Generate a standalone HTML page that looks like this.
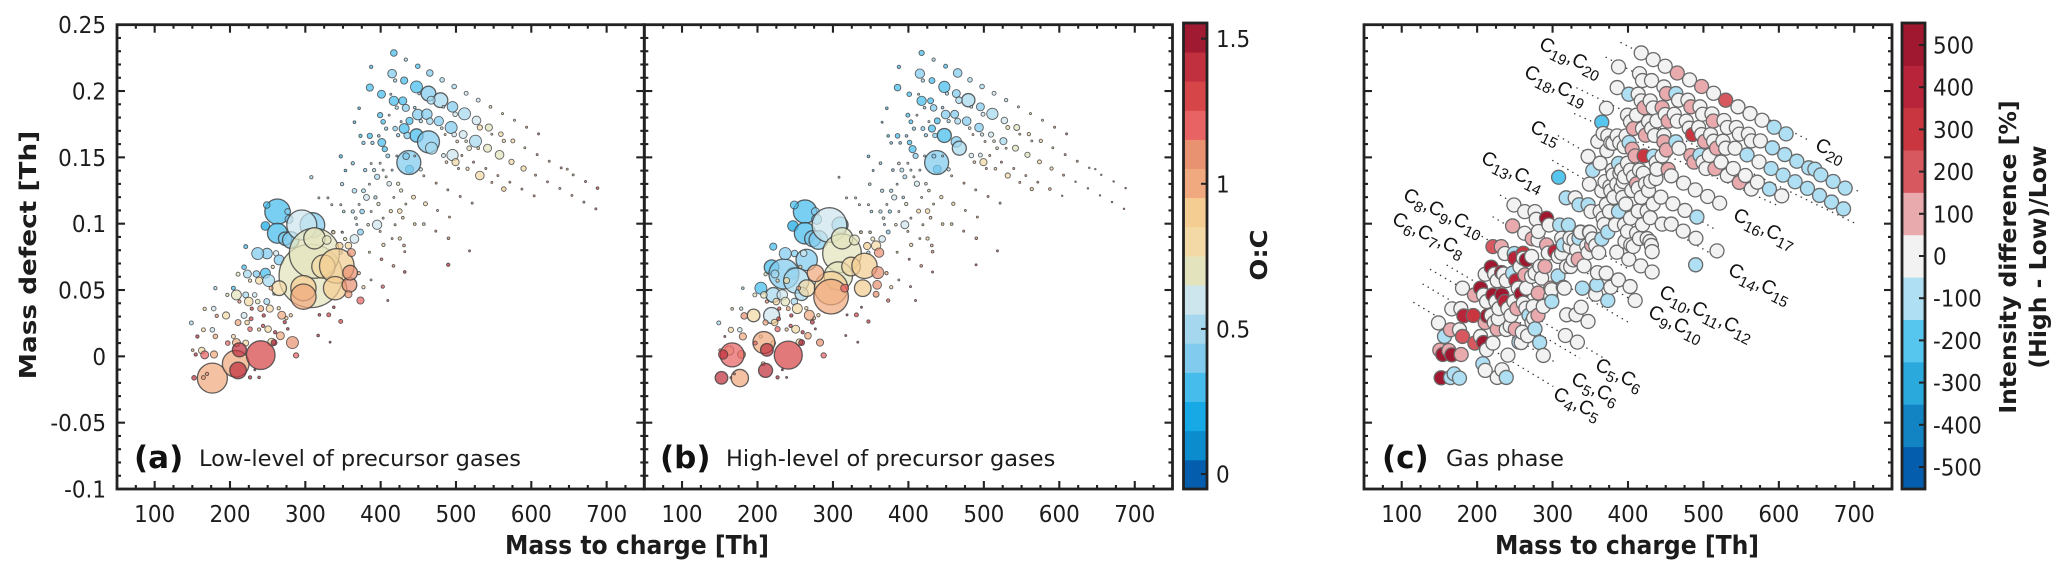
<!DOCTYPE html>
<html lang="en">
<head>
<meta charset="utf-8">
<title>Mass defect plots</title>
<style>
html,body{margin:0;padding:0;background:#fff;width:2067px;height:577px;overflow:hidden}
svg{display:block}
text{font-family:"DejaVu Sans","Liberation Sans",sans-serif;fill:#1c1c1c}
.tl{font-size:21.5px}
.ax{font-size:23.5px;font-weight:bold}
.pl{font-size:31px;font-weight:bold;fill:#111}
.pt{font-size:22.5px}
.fl{font-family:"Liberation Sans",sans-serif;font-size:19.5px;fill:#111}
.fl tspan.s{font-size:15px}
</style>
</head>
<body>
<svg id="fig" xmlns="http://www.w3.org/2000/svg" width="2067" height="577" viewBox="0 0 2067 577">
  <g id="layer-lines"></g>
  <g id="layer-marks"></g>
  <g id="layer-frames"></g>

  <text class="ax" text-anchor="middle" transform="translate(637 554) scale(1 1.1)">Mass to charge [Th]</text>
  <text class="ax" text-anchor="middle" transform="translate(1627 554) scale(1 1.1)">Mass to charge [Th]</text>
  <text class="ax" text-anchor="middle" transform="translate(36 255) rotate(-90) scale(1.12 1)">Mass defect [Th]</text>
  <text class="ax" text-anchor="middle" transform="translate(1267 255) rotate(-90) scale(1.1 1)">O:C</text>
  <text class="ax" text-anchor="middle" transform="translate(2016 257) rotate(-90)">Intensity difference [%]</text>
  <text class="ax" text-anchor="middle" transform="translate(2046 257) rotate(-90)">(High - Low)/Low</text>

  <text class="pl" x="134" y="468">(a)</text>
  <text class="pt" x="199" y="466">Low-level of precursor gases</text>
  <text class="pl" x="660" y="468">(b)</text>
  <text class="pt" x="726" y="466">High-level of precursor gases</text>
  <text class="pl" x="1382" y="468">(c)</text>
  <text class="pt" x="1446" y="466">Gas phase</text>

  <g>
    <text class="fl" transform="translate(1538 48) rotate(26)">C<tspan class="s" dy="5">19</tspan><tspan dy="-5">,C</tspan><tspan class="s" dy="5">20</tspan></text>
    <text class="fl" transform="translate(1523 76) rotate(26)">C<tspan class="s" dy="5">18</tspan><tspan dy="-5">,C</tspan><tspan class="s" dy="5">19</tspan></text>
    <text class="fl" transform="translate(1529 131) rotate(26)">C<tspan class="s" dy="5">15</tspan></text>
    <text class="fl" transform="translate(1480 162) rotate(26)">C<tspan class="s" dy="5">13</tspan><tspan dy="-5">,C</tspan><tspan class="s" dy="5">14</tspan></text>
    <text class="fl" transform="translate(1402 199) rotate(26)">C<tspan class="s" dy="5">8</tspan><tspan dy="-5">,C</tspan><tspan class="s" dy="5">9</tspan><tspan dy="-5">,C</tspan><tspan class="s" dy="5">10</tspan></text>
    <text class="fl" transform="translate(1391 223) rotate(26)">C<tspan class="s" dy="5">6</tspan><tspan dy="-5">,C</tspan><tspan class="s" dy="5">7</tspan><tspan dy="-5">,C</tspan><tspan class="s" dy="5">8</tspan></text>
    <text class="fl" transform="translate(1814 149) rotate(26)">C<tspan class="s" dy="5">20</tspan></text>
    <text class="fl" transform="translate(1732 219) rotate(26)">C<tspan class="s" dy="5">16</tspan><tspan dy="-5">,C</tspan><tspan class="s" dy="5">17</tspan></text>
    <text class="fl" transform="translate(1727 274) rotate(26)">C<tspan class="s" dy="5">14</tspan><tspan dy="-5">,C</tspan><tspan class="s" dy="5">15</tspan></text>
    <text class="fl" transform="translate(1658 296) rotate(26)">C<tspan class="s" dy="5">10</tspan><tspan dy="-5">,C</tspan><tspan class="s" dy="5">11</tspan><tspan dy="-5">,C</tspan><tspan class="s" dy="5">12</tspan></text>
    <text class="fl" transform="translate(1647 316) rotate(26)">C<tspan class="s" dy="5">9</tspan><tspan dy="-5">,C</tspan><tspan class="s" dy="5">10</tspan></text>
    <text class="fl" transform="translate(1594 369) rotate(26)">C<tspan class="s" dy="5">5</tspan><tspan dy="-5">,C</tspan><tspan class="s" dy="5">6</tspan></text>
    <text class="fl" transform="translate(1570 383) rotate(26)">C<tspan class="s" dy="5">5</tspan><tspan dy="-5">,C</tspan><tspan class="s" dy="5">6</tspan></text>
    <text class="fl" transform="translate(1552 398) rotate(26)">C<tspan class="s" dy="5">4</tspan><tspan dy="-5">,C</tspan><tspan class="s" dy="5">5</tspan></text>
  </g>
</svg>
<script>
const mz=[
417.5,433.4,449.3,465.3,481.6,497.6,513.5,529.5,545.8,561.8,
577.7,593.7,609.6,387.4,415.2,419.2,431.2,447.6,463.5,479.4,
495.4,511.3,527.2,543.6,559.6,575.5,385.6,401.1,413.5,417.5,
429.4,433.4,421.4,445.3,467,451.1,483.4,498.9,531.7,371.4,
365.2,399.3,411.3,403.3,407.3,427.2,438.3,449.3,461.3,465.3,
453.3,477.2,493.6,481.2,509.5,497.6,485.6,525.9,513.5,501.6,
547.6,563.5,541.9,557.8,573.7,589.7,591.4,607.8,623.8,639.7,
647.7,655.6,672,687.9,605.6,621.5,637.9,653.9,669.8,685.7,
555.6,571.5,587.5,603.8,531.7,547.6,563.5,539.6,523.3,515.3,
503.3,507.8,495.4,499.4,487.4,483.4,517.5,529.5,463.5,467.5,
447.6,435.2,423.2,431.2,419.2,373.2,385.6,397.5,377.2,389.1,
401.5,405.5,409.5,437.4,438.3,433.8,421.4,445.3,453.3,457.3,
347.1,363,353.3,387.4,399.3,379.4,391.3,403.3,415.2,395.3,
407.3,348.8,385.1,411.3,423.2,473.7,365.2,377.2,427.2,489.2,
381.2,393.1,417.5,443.6,505.6,335.1,347.1,371.4,397.1,433.4,
459.5,521.5,351,363,375.4,387.4,413.5,425.4,475.5,367,
403.3,429.4,491.4,368.3,383.4,395.3,419.2,445.3,457.3,336.9,
348.8,373.2,399.3,473.2,403.7,385.1,401.1,417,387.3,402.8,
409.5,415.2,425.4,365.2,352.8,345.3,357.2,361.2,347,371,
359.5,358.6,357.2,377.2,373.2,337.3,349.3,341.8,339.5,324,
312,307.2,297.5,297.5,295.3,309.4,312.1,263,248.8,276.7,
278.4,247,263,273.1,280.7,265.2,328.5,236.8,249.2,220.9,
218.7,223.1,210.7,235,247,251.4,238.6,226.6,256.8,261.2,
265.2,254.5,258.5,204.5,180.6,196.5,208.5,220.9,232.8,248.8,
212.5,224.9,236.8,166.4,178.4,228.9,240.8,252.8,264.7,182.4,
194.8,218.7,244.8,268.7,280.7,274.9,148.7,210.7,222.7,228,
272.7,318.7,331.1,337.8,347,164.7,176.6,226.6,238.6,250.6,
243.9,276.7,259.9,266.9,156.7,180.6,204.5,317,332.9,282.9,
197,208.5,220.9,255.4,258.5,150.5,162.5,212.5,154.5,166.4,
178.8,287.7,240.8,207.6,210.7,176.6,169.5,164.7,152.3,226.6,
238.6,233,308,318,330,513,447.6,451,292,232,
250,320.9,314.2,335,292.1,303.2,334,289.9,232.5,263.4,
299,314.2,213.5,276.9,315.6,432,490,489.7,518,431,
432
];
const defect=[
.2287,.2237,.2187,.2136,.2084,.2034,.1983,.1931,.1881,.1830,
.1780,.1727,.1677,.2182,.2131,.2079,.2079,.2031,.1981,.1931,
.1881,.1828,.1778,.1725,.1675,.1624,.2026,.1976,.1976,.1926,
.1926,.1873,.1875,.1875,.1931,.1981,.1881,.1825,.1725,.1870,
.1765,.1818,.1818,.1768,.1717,.1770,.1775,.1823,.1825,.1773,
.1773,.1773,.1725,.1720,.1672,.1672,.1672,.1622,.1622,.1620,
.1675,.1624,.1569,.1519,.1466,.1416,.1572,.1521,.1471,.1421,
.1411,.1368,.1318,.1268,.1366,.1316,.1266,.1213,.1163,.1112,
.1363,.1313,.1261,.1210,.1363,.1311,.1261,.1416,.1464,.1414,
.1416,.1514,.1517,.1464,.1464,.1514,.1569,.1569,.1617,.1569,
.1665,.1665,.1667,.1717,.1717,.1662,.1662,.1662,.1609,.1609,
.1612,.1562,.1511,.1461,.1411,.1509,.1511,.1511,.1409,.1361,
.1507,.1456,.1401,.1454,.1456,.1404,.1404,.1404,.1404,.1353,
.1353,.1298,.1298,.1301,.1301,.1306,.1248,.1248,.1250,.1255,
.1198,.1198,.1198,.1200,.1205,.1143,.1143,.1145,.1148,.1148,
.1150,.1155,.1092,.1092,.1092,.1092,.1095,.1095,.1100,.1042,
.1042,.1045,.1050,.0994,.0992,.0992,.0992,.0997,.0997,.0937,
.0937,.0937,.0942,.0944,.0840,.0785,.0732,.0682,.0576,.0526,
.0421,.0888,.0888,.0885,.0885,.0832,.0835,.0782,.0782,.0627,
.0631,.0539,.0468,.0521,.0421,.0935,.0935,.0682,.0514,.0677,
.0777,.0606,.0514,.0450,.0990,.0990,.0890,.1091,.1141,.1091,
.1033,.0983,.0928,.0887,.0877,.0727,.0877,.0775,.0775,.0827,
.0672,.0621,.0619,.0621,.0627,.0571,.0571,.0571,.0674,.0777,
.0514,.0514,.0471,.0514,.0514,.0463,.0463,.0463,.0463,.0413,
.0413,.0413,.0413,.0358,.0360,.0360,.0360,.0360,.0363,.0305,
.0308,.0308,.0308,.0310,.0310,.0288,.0252,.0255,.0255,.0283,
.0258,.0313,.0313,.0370,.0263,.0200,.0200,.0205,.0202,.0205,
.0230,.0207,.0182,.0155,.0150,.0150,.0150,.0157,.0107,.0104,
.0100,.0104,.0100,.0107,.0104,.0047,.0044,.0049,.0014,.0011,
.0014,.0007,.0009,-.0056,-.0106,-.0164,-.0132,-.0160,-.0162,-.0159,
-.0159,-.0101,.1350,.1195,.1195,.1774,.1617,.1556,.1041,.0827,
.0739,.0990,.0840,.0890,.0840,.0790,.0732,.0677,.0632,.0614,
.0413,.0521,.0305,.0626,.0514,.0636,.0890,.0690,.0795,.0836,
.0789
];
const intensityLow=[
11,2.8,5.4,11,5.4,5.4,4,4,1.8,1,
1,1,1,2.8,19,2.8,13,36,54,54,
28,36,19,13,5.4,4,13,16,1,22,
16,13,2.8,1.8,16,1.8,1.8,5.4,7.1,1.8,
1.8,7.1,1,5.4,2.8,1,13,28,28,11,
2.8,22,36,1.8,16,5.4,1,36,1.8,1.8,
1,2.8,16,19,7.1,7.1,1,1,1,1,
1,1,1,1.8,1,1,1,1,1,1,
1,1,1,1,19,1,5.4,1,1,2.8,
1,1,32,13,1.8,4,5.4,1.8,121,36,
44,11,2.8,25,5.4,2.8,7.1,1.8,2.8,2.8,
16,7.1,4,144,16,11,1,1,2.8,1,
2.8,2.8,1.8,1,1,2.8,2.8,1,1,7.1,
1,2.8,1,5.4,2.8,1,5.4,4,2.8,1,
9,2.8,1,4,1,1,1,1,2.8,1,
4,1,1.8,2.8,5.4,1,2.8,5.4,1,1.8,
1,1.8,1,1,1.8,22,1,1.8,1.8,2.8,
1,9,1,1,2.8,1,1.8,1.8,1,2.8,
1,1,2.8,19,2.8,13,11,16,2.8,2.8,
54,54,13,2.8,13,2.8,1,300,136,136,
625,1003,160,160,225,152,114,160,11,9,
16,19,100,44,69,25,19,36,28,4,
5.4,16,4,11,25,36,13,2.8,2.8,7.1,
54,4,1.8,4,2.8,2.8,25,9,5.4,9,
2.8,19,5.4,2.8,5.4,2.8,9,13,2.8,2.8,
13,9,2.8,16,2.8,2.8,4,9,5.4,4,
2.8,1.8,4,1.8,4,4,5.4,5.4,2.8,11,
2.8,1.8,2.8,16,2.8,5.4,4,1.8,1,36,
5.4,16,9,16,9,1.8,11,49,2.8,16,
13,7.1,205,178,69,225,2.8,4,5.4,2.8,
1.8,1,2.8,1,1,0,0,0,0,0,
0,0,0,0,0,0,0,0,0,0,
0,0,0,0,0,1.8,1.8,2.8,1,1.8,
1
];
const intensityHigh=[
7,2.8,4,19,5.4,5.4,4,2.8,1,1,
1,1,1,2.8,22,2.8,9,32,16,44,
16,32,11,9,2.8,2.8,11,5.4,1,22,
9,11,1.8,1.8,11,2.8,1.8,4,4,1.8,
1,4,1,4,2.8,1,9,19,16,9,
2.8,19,19,1.8,7,2.8,1,13,1.8,1,
1,1,9,7,4,2.8,1,1,1,.6,
.6,.6,.6,.6,1,.6,.6,.6,.6,.6,
1,1,1.8,.6,7,1,2.8,1,1,1.8,
1,1,4,13,1.8,5.4,1.8,1,28,49,
49,5.4,2.8,13,4,1.8,5.4,1.8,1.8,1.8,
5.4,13,7,144,16,4,1,1,2.8,1,
1.8,1.8,1,1.8,1,1.8,4,1,1,4,
1,1.8,1,7,1.8,1,2.8,2.8,1.8,1,
7,1.8,1,2.8,1,1,1,1,2.8,1,
2.8,1,1.8,2.8,2.8,1,4,5.4,1,1.8,
1,1.8,1,1,1.8,16,1,1.8,1.8,1.8,
1,4,1,1,2.8,1,1,1.8,1,1,
1,1,2.8,11,4,13,22,22,2.8,2.8,
36,19,9,2.8,2.8,1.8,1.8,160,69,87,
374,200,278,300,300,64,114,136,16,16,
25,28,114,64,87,114,25,36,11,13,
54,16,2.8,225,36,160,9,2.8,2.8,11,
69,4,44,36,1.8,4,11,54,28,11,
2.8,11,19,1.8,2.8,2.8,4,25,2.8,11,
40,64,2.8,25,2.8,2.8,4,7.1,11,4,
4,1,4,1,2.8,7.1,5.4,7.1,2.8,16,
2.8,1,2.8,11,1,13,2.8,1,1,13,
4,121,5.4,11,9,1.8,22,40,22,144,
16,7.1,196,4,49,75,1,1,40,2.8,
1,1,1,1,1,0,0,0,0,0,
0,0,0,0,0,0,0,0,0,0,
0,0,0,69,16,1,1.8,1,1,1.8,
1.8
];
const ocRatio=[
.3,.5,.35,.45,.55,.55,.6,.65,.8,.9,
.9,1,1.2,.35,.4,.5,.35,.25,.4,.5,
.45,.55,.6,.75,.8,.8,.3,.35,.5,.3,
.3,.4,.5,.4,.5,.5,.6,.6,.8,.35,
.35,.3,.6,.3,.45,.5,.3,.4,.4,.5,
.5,.45,.45,.6,.65,.6,.9,.55,.7,.8,
.9,.85,.75,.75,.8,.85,.95,1.1,1,1.1,
.9,.9,1.2,1.3,1,1,1,1,1.1,1.2,
1,1,1,1,.8,1,.95,1,1.1,.85,
1,1,.6,.8,.9,.6,.7,.8,.45,.55,
.35,.4,.45,.35,.4,.35,.3,.4,.4,.4,
.25,.35,.45,.45,.3,.45,.5,.6,.6,.9,
.35,.45,.3,.6,.7,.45,.5,.6,.5,.55,
.7,.5,.6,.6,.7,1,.55,.55,.7,1,
.6,.55,.8,.85,1,.5,.5,.6,.7,.9,
.85,1,.55,.5,.45,.6,.85,.8,1,.6,
.7,.9,1,.5,.7,.6,.9,.9,.9,.7,
.6,.45,.9,1,.8,.9,1.2,1.1,.9,1.2,
1.2,1,.85,.6,.7,.9,.85,1.1,.5,1,
1.15,1.1,1.15,.85,1.2,.8,.7,.95,.95,.85,
.75,.75,.9,1.05,.6,.45,.75,.3,.3,.4,
.45,.2,.35,.4,.45,.45,.75,.45,.4,.3,
.3,.55,.7,.45,.35,.5,.8,.8,.8,.6,
.85,1,.5,.35,.55,.75,.75,.55,.6,.55,
1.1,.85,.7,.8,.6,1.3,1,.85,.8,1.1,
.8,.6,1.4,1.05,.9,.9,.5,1,.9,1.3,
1.4,1.4,1.3,1.4,1.35,.8,.65,1.2,.9,.85,
1.3,1.4,1.4,1,1.4,1,.8,1.45,1.45,1.15,
1.25,1.05,.8,.8,1.5,1,.8,1.45,1.45,1.25,
1,1.2,1.3,1.05,1.45,1.05,1.1,1.1,1.4,1.4,
1.4,1.5,.55,.5,.5,.5,.5,.5,.5,.5,
.5,.5,.5,.5,.5,.5,.5,.5,.5,.5,
.5,.5,.5,1,1.2,1.3,1.1,1.4,1.2,1,
1.1
];
const intensityDiff=[
0,0,0,100,0,150,0,170,0,0,
0,-100,-100,0,0,0,0,0,-100,0,
0,0,0,0,0,0,0,-100,0,0,
0,0,150,150,0,150,150,0,0,0,
-150,0,0,0,100,0,0,0,0,0,
100,0,0,0,0,0,300,0,0,150,
0,0,0,-100,0,-100,-100,-100,-100,-100,
-100,-100,-100,-100,-100,-100,-100,-100,-100,-100,
0,0,-100,0,0,150,0,0,0,150,
0,0,-100,0,150,150,150,0,-100,0,
0,0,100,0,0,0,0,0,0,0,
-100,100,100,0,0,-100,300,0,100,0,
0,0,-100,-100,0,0,0,0,0,0,
0,0,0,100,0,0,0,0,0,0,
0,0,0,0,0,-100,-100,0,0,0,
0,0,0,0,0,-100,0,0,0,0,
0,0,-100,0,0,0,0,0,0,0,
0,-100,0,0,0,0,0,0,0,0,
0,0,0,-100,0,0,0,0,0,0,
0,-100,0,0,-100,0,0,0,-100,0,
0,-100,130,0,0,-100,0,0,0,0,
0,150,0,120,0,500,0,0,-100,250,
500,0,0,0,-100,400,0,0,0,350,
0,0,500,500,0,120,0,500,500,0,
0,0,400,0,0,0,0,130,0,420,
350,0,0,-100,150,0,0,130,0,0,
0,0,0,0,0,130,0,130,0,130,
0,-120,0,0,-100,220,0,0,0,-130,
220,500,0,-100,0,130,130,0,500,500,
130,0,0,-100,0,-100,-100,-100,500,0,
-100,0,-150,-100,0,150,120,100,500,120,
400,-100,-100,-100,120,400,150,100,500,120,
-100,120,500,0,0,0,0,-100,0,0,
0
];
const gasOnlyMz=[396,411.4,429.1,407,393.8,420.3,389.3,369.5,380.5,376,391,413.6,405,437,430,367,380,360,395,372,323,331.9,327.5,318.6,307.6,294.3,283.3,272.2,261.2,272.2,285.5,298.8,281,261.2,274.4,287.7,351.8,323,281.1];
const gasOnlyDefect=[.0866,.0928,.0866,.0828,.1317,.1380,.1380,.1317,.1367,.1280,.1267,.1267,.1250,.1340,.1320,.1680,.1606,.1620,.1580,.1550,.0828,.0803,.0727,.0677,.0753,.0778,.0677,.0753,.0740,.0602,.0590,.0502,.0477,.0401,.0376,.0376,.0840,.0891,.0941];
const gasOnlyDiff=[0,0,0,0,0,0,0,0,0,0,0,0,0,0,0,0,0,0,0,0,0,0,0,0,0,0,0,0,0,0,0,0,120,0,0,0,120,0,0];
const xTicks=[100,200,300,400,500,600,700];
const yTickLabels=["0.25","0.2","0.15","0.1","0.05","0","-0.05","-0.1"];
const yTicks=[0.25,0.2,0.15,0.1,0.05,0,-0.05,-0.1];
const ocTicks=[1.5,1,0.5,0];
const ocTickLabels=["1.5","1","0.5","0"];
const diffTicks=[500,400,300,200,100,0,-100,-200,-300,-400,-500];
const ocBands=["#045dad","#0a8ccd","#16a9e5","#45bcec","#80cbee","#a5d8ee","#cde6ee","#e3e4bd","#f3d9a6","#f4cd92","#f0a97e","#e89272","#e86364","#d64548","#c0303f","#a01a32"];
const diffBands=["#055ead","#1284c4","#2aa9dd","#56c6ee","#aedff2","#f2f2f2","#e9aaae","#d8585f","#c9363f","#b8243a","#a0182f"];
const guideStartMz=[390,370.3,331.6,328.5,307,299.6,230.3,220.5,199.3,159.6,137.5,127.7,115.4];
const guideStartDefect=[.2367,.2256,.2025,.1831,.1664,.1478,.1216,.1053,.0928,.0689,.0657,.0546,.0408];
const guideEndMz=[641.8,706,705,598.8,515.8,509.7,402.6,402.6,402.6,371.7,336.3,305.4,301];
const guideEndDefect=[.1622,.1242,.0992,.1136,.0956,.0775,.0652,.0433,.0250,-.0026,-.0014,-.0051,-.0227];

const NS="http://www.w3.org/2000/svg";
const marks=document.getElementById("layer-marks");
const frames=document.getElementById("layer-frames");
const guides=document.getElementById("layer-lines");
const TOP=24.7,BOTTOM=489;
const panelA={l:117,r:644.3},panelB={l:644.3,r:1172.5},panelC={l:1364,r:1892};
function xAxis(p,v){return p.l+(v-50)/700*(p.r-p.l);}
function yAxis(v){return TOP+(0.25-v)/0.35*(BOTTOM-TOP);}
function ocAxis(v){return 474-v*290.2;}
function diffAxis(v){return 256-v*0.422;}
function ocColor(v){
  const i=Math.floor((v+0.052)/(1.609/16));
  return ocBands[Math.max(0,Math.min(15,i))];
}
function diffColor(v){
  const i=Math.floor((v+552)/(1106/11));
  return diffBands[Math.max(0,Math.min(10,i))];
}
function mk(tag,attrs,parent){
  const e=document.createElementNS(NS,tag);
  for(const k in attrs)e.setAttribute(k,attrs[k]);
  parent.appendChild(e);
  return e;
}

function drawBubbles(p,values,name){
  const order=mz.map((_,i)=>i).filter(i=>values[i]>0).sort((a,b)=>(ocRatio[a]-ocRatio[b])||(values[b]-values[a]));
  order.forEach(i=>{
    const r=Math.sqrt(values[i]);
    const c=mk("circle",{cx:xAxis(p,mz[i]),cy:yAxis(defect[i]),r:r,fill:ocColor(ocRatio[i]),"fill-opacity":.72,stroke:"#3c3c3c","stroke-opacity":.8,"stroke-width":r>6?1.3:.9},marks);
    
    
  });
}
drawBubbles(panelA,intensityLow,'low-level-bubble');
drawBubbles(panelB,intensityHigh,'high-level-bubble');

guideStartMz.forEach((m,i)=>{
  const l=mk("line",{x1:xAxis(panelC,m),y1:yAxis(guideStartDefect[i]),x2:xAxis(panelC,guideEndMz[i]),y2:yAxis(guideEndDefect[i]),stroke:"#333","stroke-width":1.3,"stroke-dasharray":"1.4 4.4"},guides);
  
  
});

const gasMz=mz.concat(gasOnlyMz);
const gasDefect=defect.concat(gasOnlyDefect);
const gasDiff=intensityDiff.concat(gasOnlyDiff);
gasMz.map((_,i)=>i).sort((a,b)=>gasMz[a]-gasMz[b]).forEach(i=>{
  const c=mk("circle",{cx:xAxis(panelC,gasMz[i]),cy:yAxis(gasDefect[i]),r:7,fill:diffColor(gasDiff[i]),stroke:"#6a6a6a","stroke-width":1.3},marks);
  
  
});

function drawFrame(p,showY,name){
  const dark="#222";
  for(let v=50;v<=750;v+=25){
    const major=v%100===0;
    const x=xAxis(p,v),len=major?8:4;
    [[BOTTOM,BOTTOM-len],[TOP,TOP+len]].forEach(d=>{
      const t=mk("line",{x1:x,x2:x,y1:d[0],y2:d[1],stroke:dark,"stroke-width":2.1},frames);
      
      
    });
  }
  for(let k=-10;k<=25;k++){
    const major=k%5===0;
    const y=yAxis(k/100),len=major?8:4;
    [[p.l,p.l+len],[p.r,p.r-len]].forEach(d=>{
      const t=mk("line",{y1:y,y2:y,x1:d[0],x2:d[1],stroke:dark,"stroke-width":2.1},frames);
      
      
    });
  }
  const f=mk("rect",{x:p.l,y:TOP,width:p.r-p.l,height:BOTTOM-TOP,fill:"none",stroke:dark,"stroke-width":2.8},frames);
  
  
  xTicks.forEach(v=>{
    const t=mk("text",{transform:"translate("+xAxis(p,v)+" 522) scale(1 1.08)","text-anchor":"middle",class:"tl"},frames);
    
    
    t.textContent=v;
  });
  if(showY){
    yTicks.forEach((v,i)=>{
      const t=mk("text",{transform:"translate(106 "+(yAxis(v)+8.5)+") scale(1 1.08)","text-anchor":"end",class:"tl"},frames);
      
      
      t.textContent=yTickLabels[i];
    });
  }
}
drawFrame(panelA,true,'panel-a-frame');
drawFrame(panelB,false,'panel-b-frame');
drawFrame(panelC,false,'panel-c-frame');

function drawBar(x0,x1,bands,name){
  const y0=23,y1=489,h=(y1-y0)/bands.length;
  bands.forEach((col,i)=>{
    const b=mk("rect",{x:x0,y:y1-(i+1)*h,width:x1-x0,height:h+.4,fill:col},frames);
    
    
  });
  const f=mk("rect",{x:x0,y:y0,width:x1-x0,height:y1-y0,fill:"none",stroke:"#222","stroke-width":2.8},frames);
  
  
}
drawBar(1183.5,1207,ocBands,'oc-colorbar');
drawBar(1902,1925,diffBands,'diff-colorbar');
ocTicks.forEach((v,i)=>{
  const y=ocAxis(v);
  const m=mk("line",{x1:1201,x2:1207,y1:y,y2:y,stroke:"#222","stroke-width":2},frames);
  
  
  const t=mk("text",{transform:"translate(1216 "+(y+8.5)+") scale(1 1.08)",class:"tl"},frames);
  
  
  t.textContent=ocTickLabels[i];
});
diffTicks.forEach(v=>{
  const y=diffAxis(v);
  const m=mk("line",{x1:1919,x2:1925,y1:y,y2:y,stroke:"#222","stroke-width":2},frames);
  
  
  const t=mk("text",{transform:"translate(1933 "+(y+8.5)+") scale(1 1.08)",class:"tl"},frames);
  
  
  t.textContent=v;
});
</script>
</body>
</html>
